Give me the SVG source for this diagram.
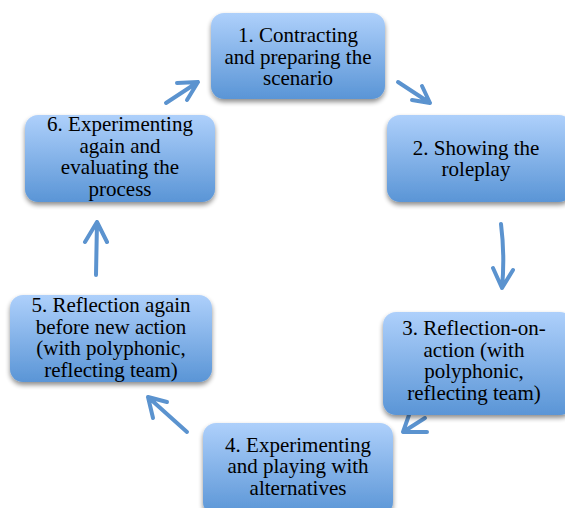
<svg xmlns="http://www.w3.org/2000/svg" width="565" height="508" viewBox="0 0 565 508">
<defs>
<linearGradient id="g" x1="0" y1="0" x2="0" y2="1">
<stop offset="0" stop-color="#aed0fb"/>
<stop offset="1" stop-color="#5a95d6"/>
</linearGradient>
<filter id="sh" x="-10%" y="-10%" width="120%" height="130%">
<feGaussianBlur in="SourceAlpha" stdDeviation="2.5"/>
<feOffset dx="0" dy="3" result="b"/>
<feComponentTransfer><feFuncA type="linear" slope="0.45"/></feComponentTransfer>
<feMerge><feMergeNode/><feMergeNode in="SourceGraphic"/></feMerge>
</filter>
</defs>
<style>
.box{fill:url(#g);filter:url(#sh)}
.t{font-family:"Liberation Serif","Times New Roman",serif;font-size:21px;fill:#000;text-anchor:middle}
.a{fill:none;stroke:#5b93cf;stroke-width:4;stroke-linecap:round;stroke-linejoin:round}
</style>
<rect width="565" height="508" fill="#fff"/>
<g id="connectors">
<path class="a" d="M398 82 L430 103 M412 100 L430 103 L422 86"/>
<path class="a" d="M501 224 Q505 256 502 288 M493 268 L502 288 L513 270"/>
<path class="a" d="M425 418 L403 432 M409 415 L403 432 L427 432"/>
<path class="a" d="M187 432 L148 397 M153 418 L148 397 L167 402"/>
<path class="a" d="M96 275 L97 222 M85 242 L97 222 L107 242"/>
<path class="a" d="M166 103 L198 82 M177 83 L198 82 L187 100"/>
</g>
<g id="n1"><rect class="box" x="211" y="13" width="174" height="86" rx="13"/>
<text class="t" x="298" y="42">1. Contracting</text><text class="t" x="298" y="64">and preparing the</text><text class="t" x="298" y="85">scenario</text></g>
<g id="n2"><rect class="box" x="387" y="115" width="185" height="87" rx="13"/>
<text class="t" x="476" y="155">2. Showing the</text><text class="t" x="476" y="176">roleplay</text></g>
<g id="n3"><rect class="box" x="383" y="312" width="190" height="103" rx="13"/>
<text class="t" x="474" y="335">3. Reflection-on-</text><text class="t" x="474" y="357">action (with</text><text class="t" x="474" y="378">polyphonic,</text><text class="t" x="474" y="400">reflecting team)</text></g>
<g id="n4"><rect class="box" x="203" y="423" width="190" height="92" rx="13"/>
<text class="t" x="298" y="452">4. Experimenting</text><text class="t" x="298" y="473">and playing with</text><text class="t" x="298" y="495">alternatives</text></g>
<g id="n5"><rect class="box" x="10" y="295" width="202" height="87" rx="13"/>
<text class="t" x="111" y="312">5. Reflection again</text><text class="t" x="111" y="334">before new action</text><text class="t" x="111" y="355">(with polyphonic,</text><text class="t" x="111" y="377">reflecting team)</text></g>
<g id="n6"><rect class="box" x="25" y="115" width="190" height="87" rx="13"/>
<text class="t" x="120" y="131">6. Experimenting</text><text class="t" x="120" y="153">again and</text><text class="t" x="120" y="174">evaluating the</text><text class="t" x="120" y="196">process</text></g>
</svg>
